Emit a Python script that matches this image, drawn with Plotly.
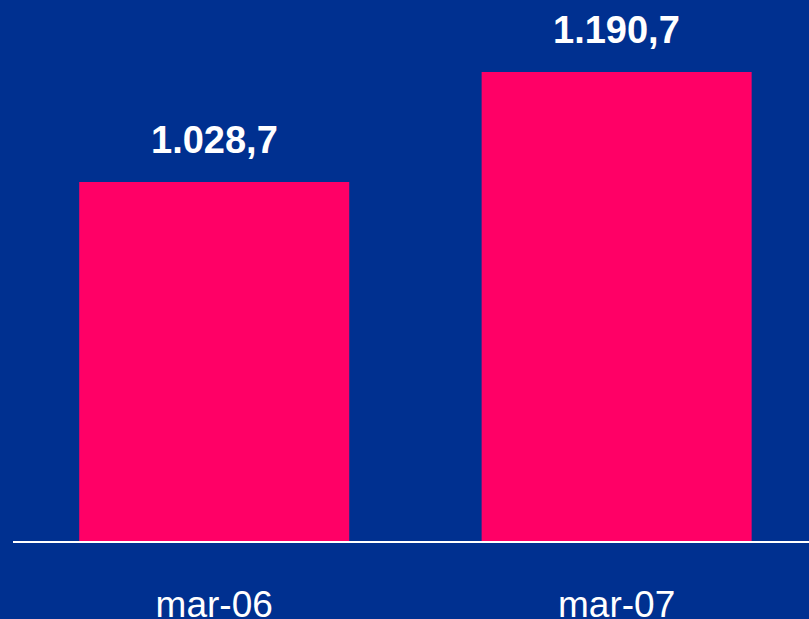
import plotly.graph_objects as go

categories = ["mar-06", "mar-07"]
values = [1028.7, 1190.7]
labels = ["1.028,7", "1.190,7"]

BG = "#003090"
BAR = "#FF0066"

fig = go.Figure()
fig.add_trace(go.Bar(
    x=categories, y=values, marker=dict(color=BAR, line=dict(width=0)),
    width=0.671, hoverinfo="skip",
))

for c, v, t in zip(categories, values, labels):
    fig.add_annotation(x=c, y=v, text="<b>%s</b>" % t, showarrow=False,
                       yanchor="bottom", yshift=19,
                       font=dict(family="Liberation Sans, Arial, sans-serif", size=38, color="white"))

fig.update_layout(
    width=809, height=619,
    margin=dict(l=13, r=0, t=0, b=78),
    paper_bgcolor=BG, plot_bgcolor=BG,
    showlegend=False,
    font=dict(family="Liberation Sans, Arial, sans-serif", color="white"),
)
fig.update_xaxes(
    type="category", range=[-0.5, 1.478], automargin=False,
    showline=True, linecolor="white", linewidth=2,
    showgrid=False, zeroline=False, ticks="",
    tickfont=dict(size=37, color="white"), ticklabelstandoff=30,
)
fig.update_yaxes(
    range=[500, 1296.8], visible=False, showgrid=False, zeroline=False,
    automargin=False,
)

fig.write_html("out.html", config={"displayModeBar": False},
               post_script="document.body.style.margin='0';document.body.style.overflow='hidden';document.body.style.background='%s';" % BG)
